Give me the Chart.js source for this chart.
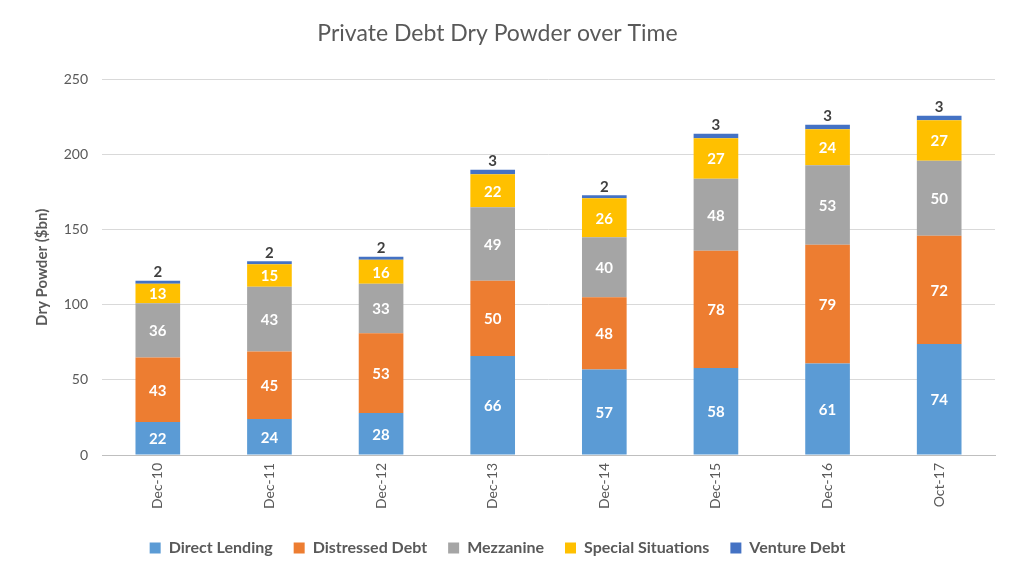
<!DOCTYPE html>
<html>
<head>
<meta charset="utf-8">
<script src="https://cdn.jsdelivr.net/npm/chart.js@4/dist/chart.umd.min.js"></script>
<style>
  html, body { margin: 0; padding: 0; background: #fff; }
  #wrap { width: 1024px; height: 582px; }
</style>
</head>
<body>
<div id="wrap"><canvas id="chart"></canvas></div>
<script>
// data ($bn)
let periods         = ["Dec-10", "Dec-11", "Dec-12", "Dec-13", "Dec-14", "Dec-15", "Dec-16", "Oct-17"];
let directLending   = [22, 24, 28, 66, 57, 58, 61, 74];
let distressedDebt  = [43, 45, 53, 50, 48, 78, 79, 72];
let mezzanine       = [36, 43, 33, 49, 40, 48, 53, 50];
let specialSit      = [13, 15, 16, 22, 26, 27, 24, 27];
let ventureDebt     = [2, 2, 2, 3, 2, 3, 3, 3];

const FONT = "Lato, 'Open Sans', sans-serif";
const GREY = "#595959";

// draws the value of each segment, inside for the big ones, above the bar for venture debt
const segmentLabels = {
    id: 'segmentLabels',
    afterDatasetsDraw(chart){
        const ctx = chart.ctx;
        ctx.save();
        ctx.textAlign = 'center';
        chart.data.datasets.forEach((ds, i) => {
            const meta = chart.getDatasetMeta(i);
            meta.data.forEach((bar, j) => {
                const v = ds.data[j];
                ctx.font = 'bold 15px ' + FONT;
                if (ds.label === 'Venture Debt') {
                    ctx.fillStyle = '#404040';
                    ctx.textBaseline = 'bottom';
                    ctx.fillText(v, bar.x, bar.y - 1);
                } else {
                    ctx.fillStyle = '#ffffff';
                    ctx.textBaseline = 'middle';
                    ctx.fillText(v, bar.x, (bar.y + bar.base) / 2 + 1);
                }
            });
        });
        ctx.restore();
    }
};

function series(label, data, color){
    return {
        label: label,
        data: data,
        backgroundColor: color,
        borderWidth: 0,
        categoryPercentage: 1,
        barPercentage: 0.4
    };
}

const ctx = document.getElementById('chart').getContext('2d');
const chart = new Chart(ctx, {
    type: 'bar',
    data: {
        labels: periods,
        datasets: [
            series('Direct Lending', directLending, '#5B9BD5'),
            series('Distressed Debt', distressedDebt, '#ED7D31'),
            series('Mezzanine', mezzanine, '#A5A5A5'),
            series('Special Situations', specialSit, '#FFC000'),
            series('Venture Debt', ventureDebt, '#4472C4')
        ]
    },
    options: {
        responsive: true,
        maintainAspectRatio: false,
        animation: false,
        devicePixelRatio: 1,
        layout: { padding: { left: 0, right: 29, top: 0, bottom: 16 } },
        plugins: {
            title: {
                display: true,
                text: 'Private Debt Dry Powder over Time',
                color: GREY,
                font: { family: FONT, size: 23, weight: 'normal' },
                padding: { top: 20, bottom: 32 }
            },
            legend: {
                position: 'bottom',
                labels: {
                    color: GREY,
                    font: { family: FONT, size: 16, weight: 'bold' },
                    boxWidth: 11,
                    boxHeight: 11,
                    padding: 21
                }
            },
            tooltip: { enabled: false }
        },
        scales: {
            x: {
                stacked: true,
                grid: { display: false, drawTicks: false },
                border: { color: '#BFBFBF' },
                ticks: {
                    color: GREY,
                    font: { family: FONT, size: 14 },
                    minRotation: 90,
                    maxRotation: 90,
                    padding: 8
                },
                afterFit(scale){ scale.height = 64; }
            },
            y: {
                stacked: true,
                min: 0,
                max: 250,
                grid: { color: '#D9D9D9', drawTicks: false },
                border: { display: false },
                ticks: {
                    stepSize: 50,
                    color: GREY,
                    font: { family: FONT, size: 14 },
                    padding: 14
                },
                title: {
                    display: true,
                    text: 'Dry Powder ($bn)',
                    color: GREY,
                    font: { family: FONT, size: 15, weight: 'bold' },
                    padding: { top: 33, bottom: 0 }
                },
                afterFit(scale){ scale.width = 102; }
            }
        }
    },
    plugins: [segmentLabels]
});
</script>
</body>
</html>
